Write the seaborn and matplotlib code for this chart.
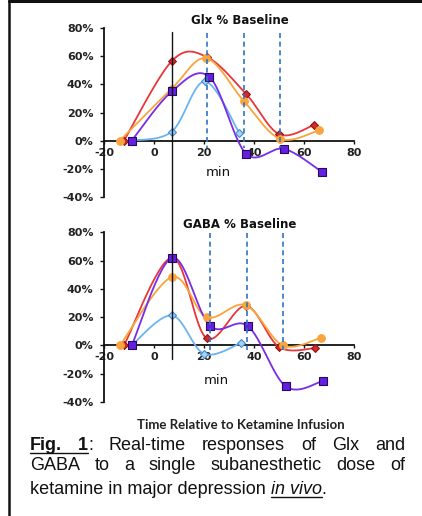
import numpy as np
import matplotlib
matplotlib.use("Agg")
import matplotlib.pyplot as plt
import seaborn as sns
from matplotlib.lines import Line2D
from matplotlib.ticker import FuncFormatter
from matplotlib.transforms import blended_transform_factory

# ---------------- data ----------------
glx_red_t = [-12, 7.3, 21.2, 36.8, 50.1, 64.1]
glx_red = [0, 57, 59.5, 33.3, 4.5, 11.2]
glx_orange_t = [-13.6, 7.1, 20.9, 36.0, 50.4, 66.1]
glx_orange = [0, 37, 58.6, 28, 1.2, 7.4]
glx_purple_t = [-8.9, 7.1, 22.1, 36.8, 52.0, 67.2]
glx_purple = [0, 35, 45.5, -9.3, -5.9, -22.4]
glx_blue_t = [-9, 7.1, 20.3, 34.1]
glx_blue = [0, 6.4, 42.1, 5.5]

gaba_red_t = [-12, 7.1, 21.0, 36.8, 50.1, 64.5]
gaba_red = [0, 62, 5.2, 28, -1.2, -1.9]
gaba_orange_t = [-13.6, 7.1, 21.0, 36.7, 51.5, 66.7]
gaba_orange = [0, 48.3, 20, 28.5, 0, 5.4]
gaba_purple_t = [-8.9, 7.3, 22.4, 37.6, 52.7, 67.5]
gaba_purple = [0, 62, 13.9, 13.6, -29, -25.2]
gaba_blue_t = [-9, 7.1, 20.0, 34.7]
gaba_blue = [0, 21.2, -5.9, 1.6]

infusion_time = 7.2
glx_scan_times = [21.2, 35.9, 50.5]
gaba_scan_times = [22.3, 37.0, 51.5]

x_ticks = [-20, 0, 20, 40, 60, 80]
y_ticks = [-40, -20, 0, 20, 40, 60, 80]

titles = ["Glx % Baseline", "GABA % Baseline"]
x_label = "min"
bottom_label = "Time Relative to Ketamine Infusion"

# ---------------- style ----------------
W, H = 422, 516
sns.set_theme(style="white")
plt.rcParams["font.family"] = ["DejaVu Sans"]
plt.rcParams["axes.unicode_minus"] = False

RED = "#E8363A"
RED_M = "#D42A2A"
ORANGE = "#F9A43C"
PURPLE = "#7A2BE6"
PURPLE_M = "#6420E0"
BLUE = "#6CB4F0"
BLUE_M = "#A9D3F5"
DASH = "#2F74C4"

fig = plt.figure(figsize=(W / 100, H / 100), dpi=100)


def fx(x):
    return x / W


def fy(y):
    return 1 - y / H


def smooth(xs, ys, n=30):
    P = np.column_stack([xs, ys]).astype(float)
    P = np.vstack([P[0], P, P[-1]])
    out = []
    t = np.linspace(0, 1, n)[:, None]
    for i in range(1, len(P) - 2):
        p0, p1, p2, p3 = P[i - 1], P[i], P[i + 1], P[i + 2]
        c1 = p1 + (p2 - p0) / 6
        c2 = p2 - (p3 - p1) / 6
        seg = ((1 - t) ** 3) * p1 + 3 * ((1 - t) ** 2) * t * c1 + 3 * (1 - t) * t ** 2 * c2 + t ** 3 * p2
        out.append(seg if i == 1 else seg[1:])
    out = np.vstack(out)
    return out[:, 0], out[:, 1]


panels = [
    dict(pos=[fx(104), fy(196.7), (354 - 104) / W, 168.4 / H],
         series=[(glx_blue_t, glx_blue, BLUE, "D", BLUE_M, "#3F8CD6", 16),
                 (glx_red_t, glx_red, RED, "D", RED_M, "#901515", 16),
                 (glx_orange_t, glx_orange, ORANGE, "o", ORANGE, ORANGE, 30),
                 (glx_purple_t, glx_purple, PURPLE, "s", PURPLE_M, "#2A0A60", 38)],
         scans=glx_scan_times, dash_y=(33, 148), title=titles[0], title_y=20, min_xy=(218, 173)),
    dict(pos=[fx(104), fy(402), (354 - 104) / W, 169.7 / H],
         series=[(gaba_blue_t, gaba_blue, BLUE, "D", BLUE_M, "#3F8CD6", 16),
                 (gaba_red_t, gaba_red, RED, "D", RED_M, "#901515", 16),
                 (gaba_orange_t, gaba_orange, ORANGE, "o", ORANGE, ORANGE, 30),
                 (gaba_purple_t, gaba_purple, PURPLE, "s", PURPLE_M, "#2A0A60", 38)],
         scans=gaba_scan_times, dash_y=(233, 350), title=titles[1], title_y=224, min_xy=(216, 380)),
]

axes = []
for k, p in enumerate(panels):
    ax = fig.add_axes(p["pos"])
    ax.set_facecolor("none")
    ax.set_xlim(-20, 80)
    ax.set_ylim(-40, 80)
    for s in ["top", "right"]:
        ax.spines[s].set_visible(False)
    ax.spines["bottom"].set_position(("data", 0))
    for s in ["left", "bottom"]:
        ax.spines[s].set_color("#111111")
        ax.spines[s].set_linewidth(1.3)
    ax.set_xticks(x_ticks)
    ax.set_yticks(y_ticks)
    ax.yaxis.set_major_formatter(FuncFormatter(lambda v, _: f"{v:.0f}%"))
    ax.xaxis.set_major_formatter(FuncFormatter(lambda v, _: f"{v:.0f}"))
    ax.tick_params(axis="y", direction="out", length=3, width=1.0, pad=4.5,
                   labelsize=8, colors="#111111", left=True)
    ax.tick_params(axis="x", direction="out", length=2.5, width=1.0, pad=2.5,
                   labelsize=8, colors="#111111", bottom=True)
    for lab in ax.get_xticklabels() + ax.get_yticklabels():
        lab.set_fontweight("bold")
        lab.set_color("#222222")
    ax.set_xlabel("")
    ax.set_ylabel("")

    for (t, v, col, mk, mfc, mec, ms) in p["series"]:
        cx, cy = smooth(t, v)
        sns.lineplot(x=cx, y=cy, sort=False, estimator=None, color=col, linewidth=1.3, ax=ax, zorder=3)
        sns.scatterplot(x=t, y=v, marker=mk, s=ms, color=mfc, edgecolor=mec, linewidth=0.8,
                        ax=ax, zorder=4, legend=False)

    tr = blended_transform_factory(ax.transData, fig.transFigure)
    for st in p["scans"]:
        fig.add_artist(Line2D([st, st], [fy(p["dash_y"][0]), fy(p["dash_y"][1])], transform=tr,
                              color=DASH, lw=1.2, ls=(0, (3.0, 2.2)), zorder=2))
    fig.text(fx(240), fy(p["title_y"]), p["title"], ha="center", va="center",
             fontsize=8.5, fontweight="bold", color="#111111")
    fig.text(fx(p["min_xy"][0]), fy(p["min_xy"][1]), x_label, ha="center", va="center",
             fontsize=9.5, color="#111111")
    axes.append(ax)

# infusion line spanning both panels
tr0 = blended_transform_factory(axes[0].transData, fig.transFigure)
fig.add_artist(Line2D([infusion_time, infusion_time], [fy(32), fy(359)], transform=tr0,
                      color="#111111", lw=1.0, zorder=5))

fig.text(fx(241), fy(425), bottom_label, ha="center", va="center",
         fontsize=9.5, fontweight="bold", family="Lato", color="#222222")

# frame
fig.add_artist(Line2D([fx(8.5), 1], [fy(1), fy(1)], transform=fig.transFigure, color="#111111", lw=2.2))
fig.add_artist(Line2D([fx(8.5), fx(8.5)], [fy(0), fy(516)], transform=fig.transFigure, color="#111111", lw=1.8))

# caption (justified)
CAP = dict(family="Liberation Sans", fontsize=13, color="#111111")
renderer = fig.canvas.get_renderer()
line1 = [[("Fig.", dict(weight="bold"))], [("1", dict(weight="bold")), (":", {})],
         [("Real-time", {})], [("responses", {})], [("of", {})], [("Glx", {})], [("and", {})]]
line2 = [[(w, {})] for w in ["GABA", "to", "a", "single", "subanesthetic", "dose", "of"]]
line3 = [[("ketamine in major depression ", {}), ("in vivo", dict(style="italic")), (".", {})]]


def place_line(groups, y, x0, x1, justify=True):
    objs = []
    widths = []
    for g in groups:
        gobjs = []
        gw = 0
        for s, props in g:
            t = fig.text(0, fy(y), s, ha="left", va="baseline", **CAP, **props)
            w = t.get_window_extent(renderer).width
            gobjs.append((t, w))
            gw += w
        objs.append(gobjs)
        widths.append(gw)
    if justify and len(groups) > 1:
        gap = (x1 - x0 - sum(widths)) / (len(groups) - 1)
    else:
        gap = 0
    x = x0
    placed = []
    for gobjs, gw in zip(objs, widths):
        for t, w in gobjs:
            t.set_x(fx(x))
            placed.append((t, x, w))
            x += w
        x += gap
    return placed


p1 = place_line(line1, 450.5, 30, 405)
p2 = place_line(line2, 469.5, 30, 405)
p3 = place_line(line3, 494, 30, 405, justify=False)


def underline(xa, xb, y):
    fig.add_artist(Line2D([fx(xa), fx(xb)], [fy(y), fy(y)], transform=fig.transFigure,
                          color="#111111", lw=1.0))


underline(p1[0][1], p1[1][1] + p1[1][2], 453)
underline(p3[1][1], p3[1][1] + p3[1][2], 496.5)

fig.savefig("out.png", dpi=100)
